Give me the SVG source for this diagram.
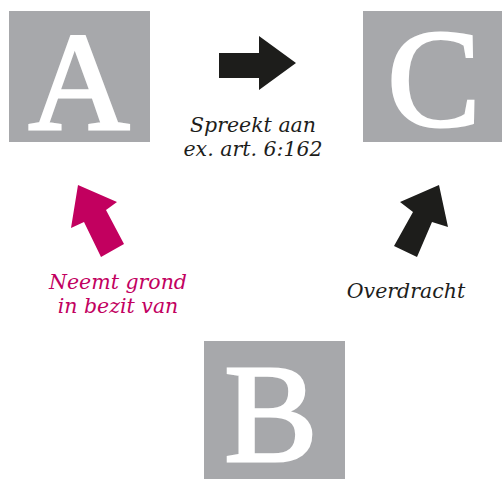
<svg xmlns="http://www.w3.org/2000/svg" width="502" height="479" viewBox="0 0 502 479">
  <style>
    .box { fill: #a7a8ab; }
    .letter { font-family: "Liberation Serif", "DejaVu Serif", serif; font-size: 140px; fill: #ffffff; stroke: #ffffff; stroke-width: 3; stroke-linejoin: miter; text-anchor: middle; }
    .label { font-family: "DejaVu Serif", "Liberation Serif", serif; font-style: italic; font-size: 20.5px; text-anchor: middle; }
    .dark { fill: #1d1d1b; }
    .pink { fill: #c2005f; }
  </style>
  <rect width="502" height="479" fill="#ffffff"/>

  <g id="node-a">
    <rect class="box" x="9" y="11" width="141" height="131"/>
    <text class="letter" x="79" y="129">A</text>
  </g>
  <g id="node-c">
    <rect class="box" x="363" y="11" width="139" height="131"/>
    <text class="letter" x="434" y="126">C</text>
  </g>
  <g id="node-b">
    <rect class="box" x="204" y="341" width="141" height="138"/>
    <text class="letter" x="271" y="461">B</text>
  </g>

  <g id="connectors">
    <!-- A to C: spreekt aan -->
    <polygon class="dark" points="219,53 259,53 259,36 296,63 259,90 259,78 219,78"/>
    <text class="label dark" x="253" y="132">Spreekt aan</text>
    <text class="label dark" x="253" y="156">ex. art. 6:162</text>

    <!-- B to A: neemt grond in bezit -->
    <polygon class="pink" points="101,257 84,222 71,228 78,185 117,202 106,210 124,244"/>
    <text class="label pink" x="118" y="289">Neemt grond</text>
    <text class="label pink" x="118" y="313">in bezit van</text>

    <!-- B to C: overdracht -->
    <polygon class="dark" points="394,246 413,212 400,202 439,185 448,227 432,222 417,257"/>
    <text class="label dark" x="406" y="298">Overdracht</text>
  </g>
</svg>
